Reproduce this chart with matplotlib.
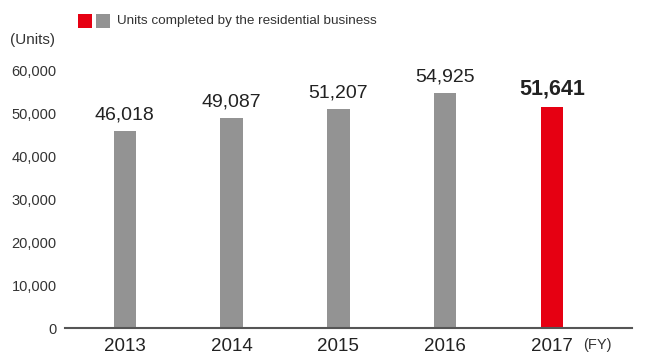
import matplotlib
matplotlib.use("Agg")
import matplotlib.pyplot as plt
from matplotlib.patches import Rectangle

plt.rcParams['font.family'] = ['Liberation Sans', 'DejaVu Sans']

years = ["2013", "2014", "2015", "2016", "2017"]
units = [46018, 49087, 51207, 54925, 51641]
y_ticks = [0, 10000, 20000, 30000, 40000, 50000, 60000]
legend_label = "Units completed by the residential business"

gray = "#939393"
red = "#e60012"
text_col = "#222222"

fig = plt.figure(figsize=(6.67, 3.54), dpi=100)
W, H = 667, 354
ax = fig.add_axes([65 / W, 26 / H, (632 - 65) / W, (328 - 71) / H])

colors = [gray] * (len(years) - 1) + [red]
x = list(range(len(years)))
ax.bar(x, units, width=0.21, color=colors, zorder=2)

for i, v in enumerate(units):
    last = i == len(units) - 1
    ax.annotate(f"{v:,}", (i, v), xytext=(0, 5), textcoords="offset points",
                ha="center", va="bottom", fontsize=15.5 if last else 14,
                fontweight="bold" if last else "normal", color=text_col,
                annotation_clip=False)

ax.set_xlim(-0.56, 4.75)
ax.set_ylim(0, 60000)
ax.set_yticks(y_ticks)
ax.set_yticklabels([f"{t:,}" for t in y_ticks], fontsize=10.5, color="#333333")
ax.set_xticks(x)
ax.set_xticklabels(years, fontsize=13.5, color=text_col)
ax.tick_params(axis="both", length=0)
ax.tick_params(axis="y", pad=6)
ax.tick_params(axis="x", pad=7)

for s in ["top", "right", "left"]:
    ax.spines[s].set_visible(False)
ax.spines["bottom"].set_color("#555555")
ax.spines["bottom"].set_linewidth(1.5)
ax.spines["bottom"].set_zorder(3)

fig.text(10 / W, 1 - 40 / H, "(Units)", fontsize=11, color="#333333", va="center", ha="left")
fig.text(583 / W, 1 - 345 / H, "(FY)", fontsize=10.5, color="#333333", va="center", ha="left")

# legend swatches
fig.patches.append(Rectangle((78 / W, 1 - 28 / H), 14 / W, 14 / H, transform=fig.transFigure,
                             facecolor=red, edgecolor="none"))
fig.patches.append(Rectangle((96 / W, 1 - 28 / H), 14 / W, 14 / H, transform=fig.transFigure,
                             facecolor=gray, edgecolor="none"))
fig.text(117 / W, 1 - 21 / H, legend_label, fontsize=9.7, color="#333333", va="center", ha="left")

fig.savefig("out.png", dpi=100)
